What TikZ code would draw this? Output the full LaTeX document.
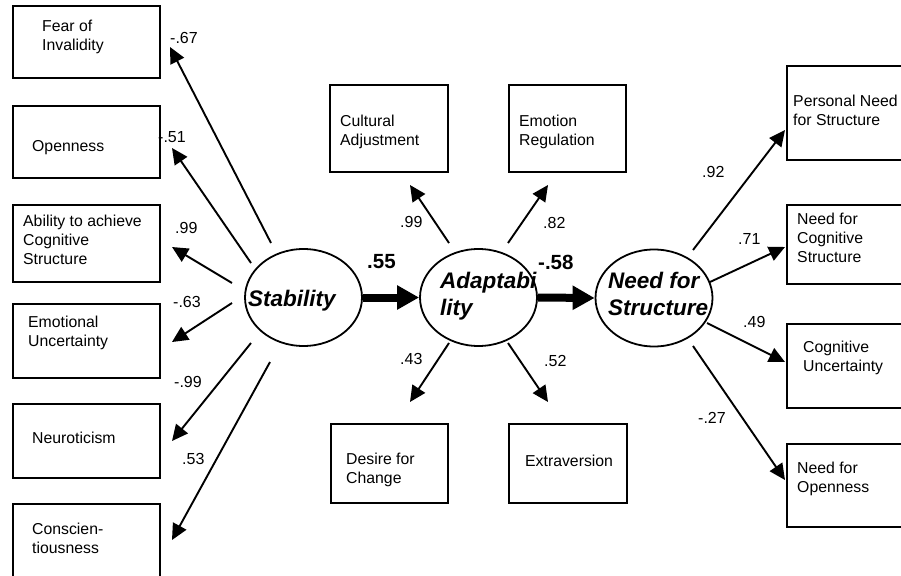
\documentclass[tikz,border=0pt]{standalone}
\usepackage{fontspec}
\setmainfont{Liberation Sans}
\usetikzlibrary{arrows.meta,shapes.geometric}
\tikzset{
 box/.style={draw, line width=1.9pt, rectangle, inner sep=0pt, anchor=north west},
 boxtext/.style={anchor=north west, inner sep=0pt, align=left, font=\fontsize{15.8}{19}\selectfont},
 num/.style={anchor=west, inner sep=0pt, font=\fontsize{16}{19}\selectfont},
 bnum/.style={anchor=west, inner sep=0pt, font=\fontsize{20.5}{24}\selectfont\bfseries},
 latent/.style={draw, ellipse, line width=1.8pt, minimum width=117pt, minimum height=97pt, inner sep=0pt},
 ltext/.style={inner sep=0pt, align=left, font=\fontsize{22.5}{27}\selectfont\bfseries\itshape},
 loadarrow/.style={line width=1.9pt, -{Triangle[length=16pt,width=15pt]}},
 regarrow/.style={line width=8pt, -{Triangle[length=22pt,width=23pt]}},
}
\begin{document}
\begin{tikzpicture}[x=1pt,y=-1pt]
\clip (0,0) rectangle (901,575);
\fill[white] (0,0) rectangle (901,575);
% left boxes
\node[box, minimum width=147pt, minimum height=72pt] (L1) at (12,5) {};
\node[box, minimum width=147pt, minimum height=72pt] (L2) at (12,105) {};
\node[box, minimum width=147pt, minimum height=77pt] (L3) at (12,204) {};
\node[box, minimum width=147pt, minimum height=74pt] (L4) at (12,303) {};
\node[box, minimum width=147pt, minimum height=74pt] (L5) at (12,403) {};
\node[box, minimum width=147pt, minimum height=90pt] (L6) at (12,503) {};
\node[boxtext] (L1t) at (42,19.5) {Fear of\\Invalidity};
\node[boxtext] (L2t) at (32,140.5) {Openness};
\node[boxtext] (L3t) at (23,214.5) {Ability to achieve\\Cognitive\\Structure};
\node[boxtext] (L4t) at (28,315.5) {Emotional\\Uncertainty};
\node[boxtext] (L5t) at (32,431.5) {Neuroticism};
\node[boxtext] (L6t) at (32,522.5) {Conscien-\\tiousness};
% centre boxes
\node[box, minimum width=118pt, minimum height=87pt] (C1) at (329,84) {};
\node[box, minimum width=117pt, minimum height=87pt] (C2) at (508,84) {};
\node[box, minimum width=117pt, minimum height=79pt] (C3) at (330,423) {};
\node[box, minimum width=118pt, minimum height=79pt] (C4) at (508,423) {};
\node[boxtext] (C1t) at (340,114.5) {Cultural\\Adjustment};
\node[boxtext] (C2t) at (519,114.5) {Emotion\\Regulation};
\node[boxtext] (C3t) at (346,452.5) {Desire for\\Change};
\node[boxtext] (C4t) at (525,454.5) {Extraversion};
% right boxes
\node[box, minimum width=140pt, minimum height=94pt] (R1) at (786,65) {};
\node[box, minimum width=140pt, minimum height=79pt] (R2) at (786,204) {};
\node[box, minimum width=140pt, minimum height=84pt] (R3) at (786,323) {};
\node[box, minimum width=140pt, minimum height=83pt] (R4) at (786,443) {};
\node[boxtext] (R1t) at (793,94.5) {Personal Need\\for Structure};
\node[boxtext] (R2t) at (797,212.5) {Need for\\Cognitive\\Structure};
\node[boxtext] (R3t) at (803,340.5) {Cognitive\\Uncertainty};
\node[boxtext] (R4t) at (797,461.5) {Need for\\Openness};
% latent variables
\node[latent] (stab) at (303.5,297.5) {};
\node[latent] (adapt) at (478.5,297.5) {};
\node[latent] (nfs) at (654,298) {};
\node[ltext, anchor=base west] (stabt) at (248,306) {Stability};
\node[ltext, anchor=north west] (adaptt) at (440,272) {Adaptabi\\lity};
\node[ltext, anchor=north west] (nfst) at (608,272) {Need for\\Structure};
% arrow end points
\coordinate (s1) at (271,243); \coordinate (e1) at (170,47);
\coordinate (s2) at (251,263); \coordinate (e2) at (172,148);
\coordinate (s3) at (232,283); \coordinate (e3) at (172,247);
\coordinate (s4) at (232,303); \coordinate (e4) at (172,342);
\coordinate (s5) at (251,343); \coordinate (e5) at (172,441);
\coordinate (s6) at (270,362); \coordinate (e6) at (172,540);
\coordinate (a1) at (449,243); \coordinate (f1) at (410,185);
\coordinate (a2) at (508,243); \coordinate (f2) at (548,185);
\coordinate (a3) at (449,343); \coordinate (f3) at (410,402);
\coordinate (a4) at (508,343); \coordinate (f4) at (548,402);
\coordinate (n1) at (693,250); \coordinate (g1) at (785,130);
\coordinate (n2) at (710,282); \coordinate (g2) at (785,247);
\coordinate (n3) at (707,323); \coordinate (g3) at (785,362);
\coordinate (n4) at (693,346); \coordinate (g4) at (785,480);
\foreach \a/\b in {s1/e1,s2/e2,s3/e3,s4/e4,s5/e5,s6/e6,a1/f1,a2/f2,a3/f3,a4/f4,n1/g1,n2/g2,n3/g3,n4/g4}
  \draw[loadarrow] (\a) -- (\b);
\draw[regarrow] (stab.east) -- (adapt.west);
\draw[regarrow] (adapt.east) -- (nfs.west);
% loadings
\node[num] (l1) at (170,38) {-.67};
\node[num] (l2) at (158,137) {-.51};
\node[num] (l3) at (175,228) {.99};
\node[num] (l4) at (173,302) {-.63};
\node[num] (l5) at (174,382) {-.99};
\node[num] (l6) at (182,459) {.53};
\node[num] (m1) at (400,222) {.99};
\node[num] (m2) at (543,223) {.82};
\node[num] (m3) at (400,359) {.43};
\node[num] (m4) at (544,361) {.52};
\node[num] (k1) at (702,172) {.92};
\node[num] (k2) at (738,239) {.71};
\node[num] (k3) at (743,322) {.49};
\node[num] (k4) at (698,418) {-.27};
\node[bnum] (p1) at (367,262) {.55};
\node[bnum] (p2) at (538,262) {-.58};
\end{tikzpicture}
\end{document}
